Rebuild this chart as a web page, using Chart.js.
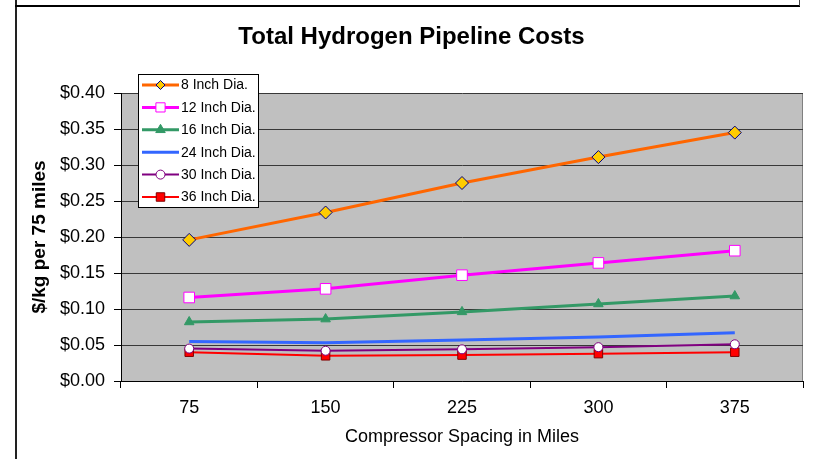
<!DOCTYPE html>
<html>
<head>
<meta charset="utf-8">
<title>Total Hydrogen Pipeline Costs</title>
<script src="https://cdn.jsdelivr.net/npm/chart.js@4/dist/chart.umd.min.js"></script>
<style>
  html, body { margin: 0; padding: 0; background: #fff; }
  #wrap { position: relative; width: 813px; height: 459px; overflow: hidden; }
  #chart { position: absolute; left: 0; top: 0; }
  .rule { position: absolute; background: #000; }
</style>
</head>
<body>
<div id="wrap">
  <canvas id="chart" width="813" height="459"></canvas>
  <div class="rule" style="left:15px; top:0; width:2px; height:459px; background:#222;"></div>
  <div class="rule" style="left:15px; top:5px; width:785px; height:2px;"></div>
  <div class="rule" style="left:799px; top:0; width:1px; height:6px; background:#444;"></div>
</div>
<script>
// Compressor spacing (miles) along the pipeline
const categories = ['75', '150', '225', '300', '375'];

// Cost in $/kg per 75 miles, by pipe diameter
const dia8  = [0.196, 0.234, 0.275, 0.311, 0.345];
const dia12 = [0.116, 0.128, 0.147, 0.164, 0.181];
const dia16 = [0.082, 0.086, 0.096, 0.107, 0.118];
const dia24 = [0.055, 0.053, 0.057, 0.061, 0.067];
const dia30 = [0.045, 0.042, 0.044, 0.047, 0.051];
const dia36 = [0.040, 0.035, 0.036, 0.038, 0.040];

const seriesNames = ['8 Inch Dia.', '12 Inch Dia.', '16 Inch Dia.', '24 Inch Dia.', '30 Inch Dia.', '36 Inch Dia.'];
const yTickValues = [0, 0.05, 0.10, 0.15, 0.20, 0.25, 0.30, 0.35, 0.40];

const FONT = "'Liberation Sans', Arial, Helvetica, sans-serif";

function series(label, data, line, fill, border, style, radius, legendRadius, width) {
  return {
    label: label,
    data: data,
    borderColor: line,
    borderWidth: width,
    backgroundColor: fill,
    pointBackgroundColor: fill,
    pointBorderColor: border,
    pointBorderWidth: 1,
    pointStyle: style,
    pointRadius: radius,
    pointHoverRadius: radius,
    legendRadius: legendRadius,
    tension: 0,
    fill: false
  };
}

const datasets = [
  series(seriesNames[0], dia8,  '#FF6600', '#FFCC00', '#000080', 'rectRot',  6.5, 4.5, 3),
  series(seriesNames[1], dia12, '#FF00FF', '#FFFFFF', '#FF00FF', 'rect',     7.5, 6.5, 3),
  series(seriesNames[2], dia16, '#339966', '#339966', '#339966', 'triangle', 5.5, 5.5, 3),
  series(seriesNames[3], dia24, '#3366FF', '#3366FF', '#3366FF', 'circle',   0,   0,   3),
  series(seriesNames[4], dia30, '#800080', '#FFFFFF', '#800080', 'circle',   4.5, 4.5, 2),
  series(seriesNames[5], dia36, '#FF0000', '#FF0000', '#800000', 'rect',     6,   6,   2)
];

// Grey plot-area fill behind the series
const plotBackground = {
  id: 'plotBackground',
  beforeDraw(chart) {
    const { ctx, chartArea: a } = chart;
    ctx.save();
    ctx.fillStyle = '#C0C0C0';
    ctx.fillRect(a.left, a.top, a.right - a.left, a.bottom - a.top);
    ctx.strokeStyle = '#808080';
    ctx.lineWidth = 1;
    ctx.beginPath();
    ctx.moveTo(a.right - 0.5, a.top);
    ctx.lineTo(a.right - 0.5, a.bottom);
    ctx.stroke();
    ctx.restore();
  }
};

// Boxed legend placed inside the top-left of the plot
const boxLegend = {
  id: 'boxLegend',
  afterDatasetsDraw(chart) {
    const { ctx, chartArea: a } = chart;
    const x0 = a.left + 17, y0 = a.top - 19;
    const w = 121, rowH = 22.4, h = 134;
    ctx.save();
    ctx.fillStyle = '#FFFFFF';
    ctx.fillRect(x0, y0, w, h);
    ctx.strokeStyle = '#000';
    ctx.lineWidth = 1;
    ctx.strokeRect(x0 + 0.5, y0 + 0.5, w - 1, h - 1);
    chart.data.datasets.forEach((ds, i) => {
      const cy = y0 + 11 + i * rowH;
      ctx.strokeStyle = ds.borderColor;
      ctx.lineWidth = ds.borderWidth;
      ctx.beginPath();
      ctx.moveTo(x0 + 4, cy);
      ctx.lineTo(x0 + 41, cy);
      ctx.stroke();
      if (ds.legendRadius > 0) {
        ctx.fillStyle = ds.pointBackgroundColor;
        ctx.strokeStyle = ds.pointBorderColor;
        ctx.lineWidth = ds.pointBorderWidth;
        Chart.helpers.drawPoint(ctx, {
          pointStyle: ds.pointStyle,
          radius: ds.legendRadius,
          rotation: 0,
          borderWidth: ds.pointBorderWidth
        }, x0 + 22.5, cy);
      }
      ctx.fillStyle = '#000';
      ctx.font = '14px ' + FONT;
      ctx.textBaseline = 'middle';
      ctx.textAlign = 'left';
      ctx.fillText(ds.label, x0 + 43, cy + 0.5);
    });
    ctx.restore();
  }
};

new Chart(document.getElementById('chart'), {
  type: 'line',
  data: { labels: categories, datasets: datasets },
  plugins: [plotBackground, boxLegend],
  options: {
    responsive: false,
    animation: false,
    events: [],
    layout: { padding: { left: 20, right: 10, top: 0, bottom: 0 } },
    plugins: {
      legend: { display: false },
      tooltip: { enabled: false },
      title: {
        display: true,
        text: 'Total Hydrogen Pipeline Costs',
        color: '#000',
        font: { family: FONT, size: 24, weight: 'bold', lineHeight: 1.2 },
        padding: { top: 22.6, bottom: 41.6 }
      }
    },
    scales: {
      x: {
        offset: true,
        afterFit(scale) { scale.height = 78; },
        border: { color: '#000', width: 1 },
        grid: { offset: true, drawOnChartArea: false, drawTicks: true, tickLength: 7, tickColor: '#000' },
        ticks: { color: '#000', padding: 9, maxRotation: 0, font: { family: FONT, size: 18 } },
        title: {
          display: true,
          text: 'Compressor Spacing in Miles',
          color: '#000',
          font: { family: FONT, size: 18, lineHeight: 1.2 },
          padding: { top: 0, bottom: 11.5 }
        }
      },
      y: {
        min: 0,
        max: 0.4,
        afterFit(scale) { scale.width = 101; },
        afterBuildTicks(scale) { scale.ticks = yTickValues.map(v => ({ value: v })); },
        border: { color: '#000', width: 1 },
        grid: { color: '#383838', lineWidth: 1, drawTicks: true, tickLength: 7, tickColor: '#000' },
        ticks: {
          color: '#000',
          padding: 9,
          font: { family: FONT, size: 18 },
          callback: v => '$' + Number(v).toFixed(2)
        },
        title: {
          display: true,
          text: '$/kg per 75 miles',
          color: '#000',
          font: { family: FONT, size: 19, weight: 'bold', lineHeight: 1.2 },
          padding: { top: 8.6, bottom: 0 }
        }
      }
    }
  }
});
</script>
</body>
</html>
